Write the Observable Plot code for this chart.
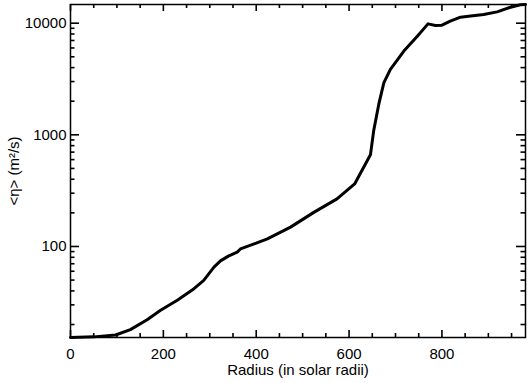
<!DOCTYPE html>
<html>
<head>
<meta charset="utf-8">
<script src="https://cdn.jsdelivr.net/npm/d3@7"></script>
<script src="https://cdn.jsdelivr.net/npm/@observablehq/plot@0.6"></script>
<style>
  html, body { margin: 0; padding: 0; background: #fff; }
</style>
</head>
<body>
<div id="chart"></div>
<script>
const radius = [0, 50, 97, 129, 165, 194, 230, 266, 287, 309, 323, 340, 359, 366, 400, 424, 474, 524, 574, 612, 646, 653, 664, 675, 689, 718, 747, 770, 786, 800, 818, 840, 862, 890, 919, 948, 969, 980];
const eta = [15.3, 15.5, 16.1, 18.0, 22.1, 26.8, 33.0, 41.9, 49.7, 65.3, 74.3, 82, 89, 95, 107, 117, 149, 202, 267, 363, 662, 1086, 1880, 2930, 3860, 5620, 7650, 9860, 9530, 9600, 10420, 11320, 11620, 11960, 12630, 13900, 14600, 14700];

const xMajor = [0, 200, 400, 600, 800];
const xMinor = [50, 100, 150, 250, 300, 350, 450, 500, 550, 650, 700, 750, 850, 900, 950];
const yMajor = [100, 1000, 10000];
const yMinor = [20, 30, 40, 50, 60, 70, 80, 90, 200, 300, 400, 500, 600, 700, 800, 900, 2000, 3000, 4000, 5000, 6000, 7000, 8000, 9000];
const xLabel = "Radius (in solar radii)";
const yLabel = "<η> (m²/s)";

const W = 531, H = 383, ML = 70, MR = 6, MT = 4, MB = 46;
const PW = W - ML - MR, PH = H - MT - MB;

const data = radius.map((r, i) => ({r, e: eta[i]}));
const tk = {stroke: "#000", strokeWidth: 1.6};

const chart = Plot.plot({
  width: W,
  height: H,
  marginLeft: ML,
  marginRight: MR,
  marginTop: MT,
  marginBottom: MB,
  style: {fontFamily: "'Liberation Sans', Arial, sans-serif", fontSize: "15px", color: "#000", background: "#fff"},
  x: {domain: [0, 980]},
  y: {type: "log", domain: [15.3, 14700]},
  marks: [
    Plot.axisX({anchor: "bottom", ticks: xMajor, tickSize: 0, tickPadding: 11, tickFormat: d => String(d), label: null}),
    Plot.axisY({anchor: "left", ticks: yMajor, tickSize: 0, tickPadding: 4, tickFormat: d => String(d), label: null}),
    // inward ticks, bottom and top
    Plot.tickX(xMajor, {x: d => d, insetTop: PH - 7, ...tk}),
    Plot.tickX(xMinor, {x: d => d, insetTop: PH - 4, ...tk}),
    Plot.tickX(xMajor, {x: d => d, insetBottom: PH - 7, ...tk}),
    Plot.tickX(xMinor, {x: d => d, insetBottom: PH - 4, ...tk}),
    // inward ticks, left and right
    Plot.tickY(yMajor, {y: d => d, insetRight: PW - 9, ...tk}),
    Plot.tickY(yMinor, {y: d => d, insetRight: PW - 4.5, ...tk}),
    Plot.tickY(yMajor, {y: d => d, insetLeft: PW - 9, ...tk}),
    Plot.tickY(yMinor, {y: d => d, insetLeft: PW - 4.5, ...tk}),
    Plot.frame({stroke: "#000", strokeWidth: 1.5}),
    Plot.line(data, {x: "r", y: "e", stroke: "#000", strokeWidth: 3, strokeLinejoin: "round", strokeLinecap: "round"}),
    Plot.text([xLabel], {frameAnchor: "bottom", dy: 37, textAnchor: "middle", text: d => d, fontSize: 15}),
    Plot.text([yLabel], {frameAnchor: "left", dx: -56, rotate: -90, textAnchor: "middle", text: d => d, fontSize: 15})
  ]
});
document.getElementById("chart").appendChild(chart);
</script>
</body>
</html>
